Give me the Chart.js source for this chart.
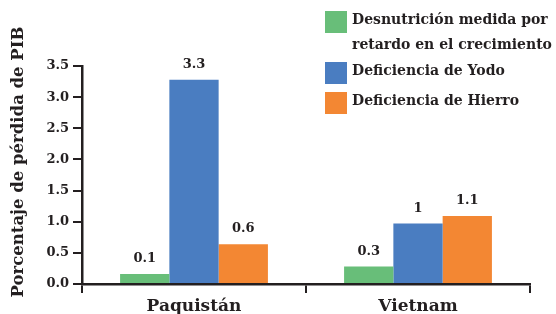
<!DOCTYPE html>
<html>
<head>
<meta charset="utf-8">
<script src="https://cdn.jsdelivr.net/npm/chart.js@4/dist/chart.umd.min.js"></script>
<style>
  html, body { margin: 0; padding: 0; background: #fff; }
</style>
</head>
<body>
<canvas id="chart" width="556" height="314"></canvas>
<script>
const categories = ['Paquistán', 'Vietnam'];
const seriesNames = [
  ['Desnutrición medida por', 'retardo en el crecimiento'],
  ['Deficiencia de Yodo'],
  ['Deficiencia de Hierro']
];
const stunting = [0.16, 0.28];
const iodine = [3.28, 0.97];
const iron = [0.64, 1.09];
const stuntingLabels = ['0.1', '0.3'];
const iodineLabels = ['3.3', '1'];
const ironLabels = ['0.6', '1.1'];
const yTitle = 'Porcentaje de pérdida de PIB';

const ink = '#231f20';
const colors = ['#68be79', '#4a7dc1', '#f38733'];
const FONT = '"DejaVu Serif", serif';

// value labels, legend box and rotated axis title
const extras = {
  id: 'extras',
  afterDatasetsDraw(chart) {
    const ctx = chart.ctx;
    ctx.save();
    ctx.fillStyle = ink;
    ctx.font = 'bold 13px ' + FONT;
    ctx.textAlign = 'center';
    ctx.textBaseline = 'alphabetic';
    chart.data.datasets.forEach((ds, i) => {
      chart.getDatasetMeta(i).data.forEach((bar, j) => {
        ctx.fillText(ds.valueLabels[j], bar.x, bar.y - 12);
      });
    });

    // legend
    const rows = [22, 73, 103];
    ctx.font = 'bold 14px ' + FONT;
    ctx.textAlign = 'left';
    ctx.textBaseline = 'middle';
    seriesNames.forEach((lines, i) => {
      ctx.fillStyle = colors[i];
      ctx.fillRect(325, rows[i] - 11, 22, 22);
      ctx.fillStyle = ink;
      lines.forEach((t, k) => ctx.fillText(t, 352, rows[i] - 2 + k * 25));
    });

    // y title
    ctx.translate(19, 162);
    ctx.rotate(-Math.PI / 2);
    ctx.textAlign = 'center';
    ctx.font = 'bold 16.5px ' + FONT;
    ctx.fillText(yTitle, 0, 0);
    ctx.restore();
  }
};

new Chart(document.getElementById('chart'), {
  type: 'bar',
  data: {
    labels: categories,
    datasets: [
      { label: seriesNames[0].join(' '), data: stunting, valueLabels: stuntingLabels, backgroundColor: colors[0] },
      { label: seriesNames[1][0], data: iodine, valueLabels: iodineLabels, backgroundColor: colors[1] },
      { label: seriesNames[2][0], data: iron, valueLabels: ironLabels, backgroundColor: colors[2] }
    ]
  },
  options: {
    responsive: false,
    animation: false,
    layout: { padding: { top: 66, right: 26, left: 0, bottom: 0 } },
    categoryPercentage: 0.66,
    barPercentage: 1,
    plugins: { legend: { display: false }, tooltip: { enabled: false } },
    scales: {
      x: {
        afterFit: s => { s.height = 30; },
        grid: { display: true, drawOnChartArea: false, offset: true, tickLength: 9, color: ink, lineWidth: 2 },
        border: { display: true, color: ink, width: 2.5 },
        ticks: { color: ink, padding: 3, font: { family: FONT, weight: 'bold', size: 17 } }
      },
      y: {
        min: 0,
        max: 3.5,
        afterFit: s => { s.width = 82; },
        grid: { display: true, drawOnChartArea: false, tickLength: 9, color: ink, lineWidth: 2 },
        border: { display: true, color: ink, width: 2.5 },
        ticks: {
          stepSize: 0.5,
          color: ink,
          padding: 4,
          font: { family: FONT, weight: 'bold', size: 13 },
          callback: v => v.toFixed(1)
        }
      }
    }
  },
  plugins: [extras]
});
</script>
</body>
</html>
